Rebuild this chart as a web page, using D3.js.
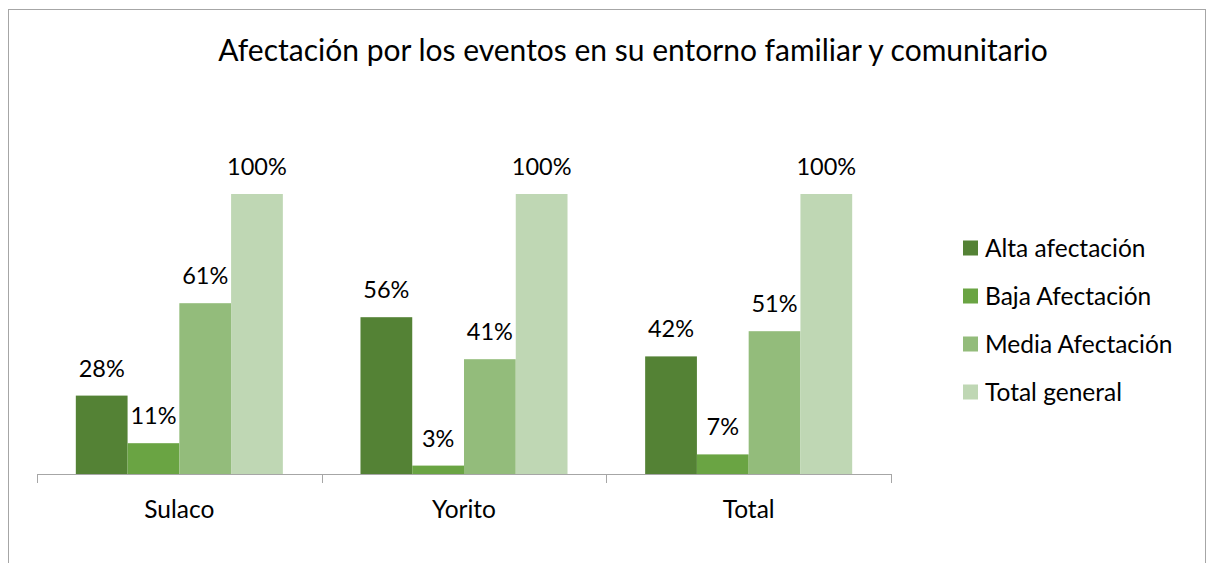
<!DOCTYPE html>
<html>
<head>
<meta charset="utf-8">
<script src="https://cdn.jsdelivr.net/npm/d3@7"></script>
<style>
body { margin: 0; background: #fff; }
text { font-family: Lato, "Open Sans", sans-serif; fill: #000; }
</style>
</head>
<body>
<script>
var w = 1207;
var h = 563;

// data
var categories = ["Sulaco", "Yorito", "Total"];
var series = ["Alta afectación", "Baja Afectación", "Media Afectación", "Total general"];
var alta = [0.28, 0.56, 0.42];
var baja = [0.11, 0.03, 0.07];
var media = [0.61, 0.41, 0.51];
var totalGeneral = [1.00, 1.00, 1.00];
var colors = ["#548235", "#6aa443", "#93bc7b", "#bfd7b4"];

var values = [alta, baja, media, totalGeneral];

var margin = { left: 37, right: 891, top: 194, axis: 474 };

var svg = d3.select("body")
    .append("svg")
    .attr("width", w)
    .attr("height", h);

// chart border
svg.append("rect")
    .attr("x", 8.5)
    .attr("y", 9.5)
    .attr("width", 1197)
    .attr("height", 570)
    .attr("fill", "none")
    .attr("stroke", "#a6a6a6");

svg.append("text")
    .attr("x", 633)
    .attr("y", 61)
    .attr("text-anchor", "middle")
    .style("font-size", "30px")
    .text("Afectación por los eventos en su entorno familiar y comunitario");

var x0 = d3.scaleBand()
    .domain(categories)
    .range([margin.left, margin.right])
    .padding(0);

var x1 = d3.scaleBand()
    .domain(series)
    .range([0, x0.bandwidth()])
    .paddingInner(0)
    .paddingOuter(0.75);

var y = d3.scaleLinear()
    .domain([0, 1])
    .range([margin.axis, margin.top]);

var color = d3.scaleOrdinal()
    .domain(series)
    .range(colors);

// flatten into one list of bars
var bars = [];
categories.forEach(function(c, i){
    series.forEach(function(s, j){
        bars.push({ cat: c, ser: s, value: values[j][i] });
    });
});

var g = svg.append("g");

g.selectAll("rect.bar")
    .data(bars)
    .enter()
    .append("rect")
    .attr("class", "bar")
    .attr("x", function(d){ return x0(d.cat) + x1(d.ser); })
    .attr("y", function(d){ return y(d.value); })
    .attr("width", x1.bandwidth())
    .attr("height", function(d){ return y(0) - y(d.value); })
    .attr("fill", function(d){ return color(d.ser); });

g.selectAll("text.lbl")
    .data(bars)
    .enter()
    .append("text")
    .attr("class", "lbl")
    .attr("x", function(d){ return x0(d.cat) + x1(d.ser) + x1.bandwidth() / 2; })
    .attr("y", function(d){ return y(d.value) - 19; })
    .attr("text-anchor", "middle")
    .style("font-size", "23.5px")
    .text(function(d){ return Math.round(d.value * 100) + "%"; });

// category axis
var xAxis = svg.append("g")
    .attr("transform", "translate(0," + margin.axis + ")")
    .call(d3.axisBottom(x0).tickSize(0).tickPadding(27));

xAxis.select(".domain")
    .attr("stroke", "#a6a6a6")
    .attr("d", "M" + margin.left + ",0.5H" + margin.right);

xAxis.selectAll("text")
    .style("font-size", "24.5px")
    .style("font-family", "Lato, sans-serif")
    .attr("fill", "#000");

// tick marks between categories
var bounds = categories.map(function(c){ return x0(c); }).concat([margin.right]);
xAxis.selectAll("line.sep")
    .data(bounds)
    .enter()
    .append("line")
    .attr("class", "sep")
    .attr("x1", function(d){ return Math.round(d) + 0.5; })
    .attr("x2", function(d){ return Math.round(d) + 0.5; })
    .attr("y1", 0)
    .attr("y2", 9)
    .attr("stroke", "#a6a6a6");

// legend
var legend = svg.append("g")
    .attr("transform", "translate(963,248)");

var item = legend.selectAll("g")
    .data(series)
    .enter()
    .append("g")
    .attr("transform", function(d, i){ return "translate(0," + (i * 48) + ")"; });

item.append("rect")
    .attr("x", 0)
    .attr("y", -7.5)
    .attr("width", 15)
    .attr("height", 15)
    .attr("fill", function(d){ return color(d); });

item.append("text")
    .attr("x", 22)
    .attr("y", 8.5)
    .style("font-size", "24.5px")
    .text(function(d){ return d; });
</script>
</body>
</html>
